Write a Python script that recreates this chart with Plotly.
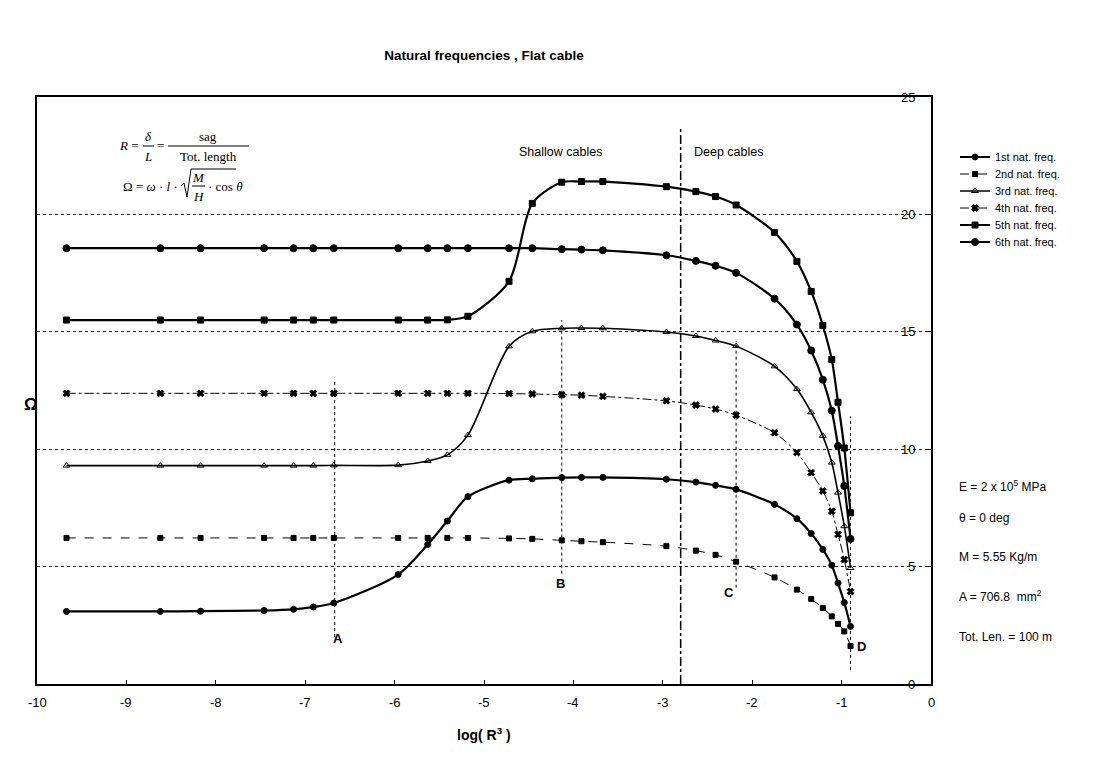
import plotly.graph_objects as go

# ---------------- data ----------------
log_r3 = [-9.67, -8.62, -8.17, -7.46, -7.13, -6.91, -6.68, -5.96, -5.63, -5.41,
          -5.18, -4.72, -4.46, -4.13, -3.91, -3.67, -2.96, -2.63, -2.41, -2.18,
          -1.75, -1.50, -1.34, -1.21, -1.11, -1.04, -0.97, -0.90]

freq1 = [3.09, 3.09, 3.10, 3.13, 3.18, 3.28, 3.45, 4.66, 5.94, 6.94,
         7.98, 8.68, 8.74, 8.79, 8.80, 8.80, 8.72, 8.60, 8.46, 8.29,
         7.65, 7.04, 6.41, 5.73, 5.06, 4.30, 3.47, 2.45]
freq2 = [6.22, 6.22, 6.22, 6.22, 6.22, 6.22, 6.22, 6.22, 6.22, 6.22,
         6.22, 6.20, 6.18, 6.12, 6.08, 6.04, 5.87, 5.68, 5.50, 5.21,
         4.54, 4.02, 3.62, 3.24, 2.88, 2.56, 2.24, 1.62]
freq3 = [9.30, 9.30, 9.30, 9.30, 9.30, 9.30, 9.31, 9.32, 9.50, 9.76,
         10.60, 14.38, 15.02, 15.15, 15.16, 15.15, 14.99, 14.82, 14.63, 14.39,
         13.53, 12.56, 11.57, 10.57, 9.43, 8.15, 6.72, 4.94]
freq4 = [12.38, 12.38, 12.38, 12.38, 12.38, 12.38, 12.38, 12.38, 12.38, 12.38,
         12.38, 12.37, 12.35, 12.32, 12.30, 12.25, 12.06, 11.88, 11.71, 11.45,
         10.70, 9.86, 9.00, 8.22, 7.36, 6.37, 5.30, 3.94]
freq5 = [15.50, 15.50, 15.50, 15.50, 15.50, 15.50, 15.50, 15.50, 15.50, 15.51,
         15.66, 17.15, 20.47, 21.37, 21.40, 21.40, 21.18, 20.97, 20.76, 20.40,
         19.23, 18.00, 16.72, 15.27, 13.82, 12.00, 10.05, 7.29]
freq6 = [18.56, 18.56, 18.56, 18.56, 18.56, 18.56, 18.56, 18.56, 18.56, 18.56,
         18.56, 18.56, 18.56, 18.52, 18.50, 18.47, 18.26, 18.02, 17.81, 17.51,
         16.41, 15.31, 14.20, 12.96, 11.64, 10.14, 8.43, 6.18]

series_names = ["1st nat. freq.", "2nd nat. freq.", "3rd nat. freq.",
                "4th nat. freq.", "5th nat. freq.", "6th nat. freq."]
x_ticks = [-10, -9, -8, -7, -6, -5, -4, -3, -2, -1, 0]
y_ticks = [0, 5, 10, 15, 20, 25]

# ---------------- styles ----------------
styles = [
    dict(width=2.2, dash="solid", symbol="circle", size=6),
    dict(width=1.0, dash="dash", symbol="square", size=5),
    dict(width=1.6, dash="solid", symbol="triangle-up-open", size=6),
    dict(width=1.0, dash="dashdot", symbol="x", size=6),
    dict(width=2.2, dash="solid", symbol="square", size=6),
    dict(width=2.2, dash="solid", symbol="circle", size=7),
]

# plot-area pixel frame
L, R, T, B = 37, 931, 97, 684
W, H = 1101, 760


def px(x):
    return (x - L) / (R - L)


def py(y):
    return (B - y) / (B - T)


AX = "Liberation Sans, Arial, sans-serif"
SERIF = "Liberation Serif, Times New Roman, serif"

fig = go.Figure()
legend_layout = {}
for i, (name, ys, st) in enumerate(zip(series_names, [freq1, freq2, freq3, freq4, freq5, freq6], styles)):
    lg = "legend" if i == 0 else f"legend{i + 1}"
    fig.add_trace(go.Scatter(
        x=log_r3, y=ys, name=name, mode="lines+markers", legend=lg,
        line=dict(color="black", width=st["width"], dash=st["dash"],
                  shape="spline", smoothing=0.8),
        marker=dict(symbol=st["symbol"], size=st["size"], color="black",
                    line=dict(color="black", width=1)),
    ))
    legend_layout[lg] = dict(x=px(955), y=py(157 + 17 * i), xanchor="left", yanchor="middle",
                             font=dict(family=AX, size=11, color="black"),
                             bgcolor="rgba(0,0,0,0)", itemwidth=30)

shapes = []
annotations = []

# reference verticals (A, B, C, D) - dotted
ref_lines = [(-6.67, 2.0, 12.9), (-4.13, 4.7, 15.5), (-2.18, 4.1, 14.6), (-0.90, 0.6, 11.4)]
for xv, y0, y1 in ref_lines:
    shapes.append(dict(type="line", xref="x", yref="y", x0=xv, x1=xv, y0=y0, y1=y1,
                       line=dict(color="black", width=1, dash="dot")))
# shallow / deep separator
shapes.append(dict(type="line", xref="x", yref="y", x0=-2.80, x1=-2.80, y0=0, y1=23.7,
                   line=dict(color="black", width=1.5, dash="dashdot")))

# tick labels drawn through the axes' scales
for v in x_ticks:
    annotations.append(dict(text=str(v), x=v, y=py(712), xref="x", yref="paper",
                            showarrow=False, font=dict(family=AX, size=13, color="black")))
for v in y_ticks:
    annotations.append(dict(text=str(v), x=px(917), y=v, xref="paper", yref="y", xanchor="right",
                            showarrow=False, font=dict(family=AX, size=13, color="black")))

# point labels
for txt, xp, yp in [("A", 338, 648), ("B", 560, 593), ("C", 736, 602), ("D", 868, 656)]:
    annotations.append(dict(text=f"<b>{txt}</b>", x=px(xp), y=py(yp), xref="paper", yref="paper",
                            showarrow=False, font=dict(family=AX, size=13, color="black")))

annotations.append(dict(text="Shallow cables", x=px(560), y=py(143), xref="paper", yref="paper",
                        showarrow=False, font=dict(family=AX, size=12.5, color="black")))
annotations.append(dict(text="Deep cables", x=px(766), y=py(143), xref="paper", yref="paper",
                        showarrow=False, font=dict(family=AX, size=12.5, color="black")))

# right-hand parameters
params = [("E = 2 x 10<sup>5</sup> MPa", 486), ("θ = 0 deg", 527), ("M = 5.55 Kg/m", 566),
          ("A = 706.8  mm<sup>2</sup>", 606), ("Tot. Len. = 100 m", 646)]
for txt, yp in params:
    annotations.append(dict(text=txt, x=px(957), y=py(yp), xref="paper", yref="paper",
                            xanchor="left", showarrow=False,
                            font=dict(family=AX, size=12, color="black")))

# axis titles
annotations.append(dict(text="<b>log( R<sup>3</sup> )</b>", x=px(484), y=py(745), xref="paper", yref="paper",
                        showarrow=False, font=dict(family=AX, size=14, color="black")))
annotations.append(dict(text="<b>Ω</b>", x=px(22), y=py(404), xref="paper", yref="paper",
                        showarrow=False, font=dict(family=AX, size=17, color="black")))

# formulas
fsz = 13


def ftxt(t, xp, yp, anchor="center"):
    annotations.append(dict(text=t, x=px(xp), y=py(yp), xref="paper", yref="paper", xanchor=anchor,
                            yanchor="middle", showarrow=False,
                            font=dict(family=SERIF, size=fsz, color="black")))


def bar(x0, x1, yp):
    shapes.append(dict(type="line", xref="paper", yref="paper", x0=px(x0), x1=px(x1),
                       y0=py(yp), y1=py(yp), line=dict(color="black", width=1)))


ftxt("<i>R</i> =", 141, 146, "right")
ftxt("<i>δ</i>", 148, 136)
ftxt("<i>L</i>", 148, 157)
bar(143, 154, 146)
ftxt("=", 160, 146)
ftxt("sag", 208, 136)
ftxt("Tot. length", 208, 157)
bar(168, 249, 146)

ftxt("Ω = <i>ω</i> · <i>l</i> ·", 180, 186, "right")
shapes.append(dict(type="path", xref="paper", yref="paper",
                   path=f"M {px(181)} {py(186)} L {px(184)} {py(183)} L {px(187)} {py(197)} "
                        f"L {px(191)} {py(169)} L {px(236)} {py(169)}",
                   line=dict(color="black", width=1)))
ftxt("<i>M</i>", 198, 177)
ftxt("<i>H</i>", 198, 196)
bar(192, 205, 186)
ftxt("· cos <i>θ</i>", 206, 186, "left")

fig.update_layout(
    width=W, height=H,
    margin=dict(l=L, r=W - R, t=T, b=H - B),
    paper_bgcolor="white", plot_bgcolor="white",
    font=dict(family=AX, color="black"),
    title=dict(text="<b>Natural frequencies , Flat cable</b>", x=484 / W,
               xanchor="center", y=1 - 55 / H, yanchor="middle",
               font=dict(family=AX, size=13.5, color="black")),
    showlegend=True,
    shapes=shapes,
    annotations=annotations,
    **legend_layout,
)
fig.update_xaxes(range=[-10, 0], tickvals=x_ticks, showticklabels=False,
                 showline=True, mirror=True, linecolor="black", linewidth=2,
                 ticks="inside", ticklen=4, tickcolor="black", showgrid=False, zeroline=False)
fig.update_yaxes(range=[0, 25], tickvals=y_ticks, side="right", showticklabels=False,
                 showline=True, mirror=True, linecolor="black", linewidth=2,
                 ticks="inside", ticklen=5, tickcolor="black",
                 showgrid=True, gridcolor="#222", griddash="dot", gridwidth=1, zeroline=False)

fig.write_html("out.html")
